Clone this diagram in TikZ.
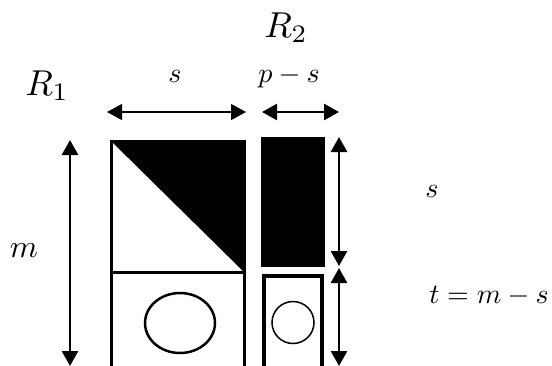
\documentclass[tikz,border=0pt]{standalone}
\usetikzlibrary{arrows.meta}
\begin{document}
\begin{tikzpicture}[x=1pt,y=-1pt,
  dimarrow/.style={{Triangle[length=15pt,width=16pt]}-{Triangle[length=15pt,width=16pt]}, line width=2.6pt},
  thinarrow/.style={{Triangle[length=15pt,width=16pt]}-{Triangle[length=15pt,width=16pt]}, line width=1.2pt},
  lbl/.style={inner sep=0pt, anchor=base, scale=2.8},
  midlbl/.style={inner sep=0pt, anchor=base, scale=3.2},
  biglbl/.style={inner sep=0pt, anchor=base, scale=3.6}]
\useasboundingbox (0,0) rectangle (552,365);
% left block R1
\fill[black] (111,141) -- (244,141) -- (244,272) -- cycle;
\draw[line width=3pt] (111,141) rectangle (244,380);
\draw[line width=3pt] (111,272) -- (244,272);
\draw[line width=2.5pt] (180,323) ellipse [x radius=35, y radius=30];
% right block R2
\fill[black] (261,137) rectangle (325,267);
\draw[line width=4pt] (263.5,275.5) rectangle (322,380);
\draw[line width=1.5pt] (293,322.5) circle [radius=21];
% coordinates for arrows
\coordinate (mT) at (70,140);
\coordinate (mB) at (70,366);
\coordinate (sL) at (107,112);
\coordinate (sR) at (246,112);
\coordinate (pL) at (262,112);
\coordinate (pR) at (339,112);
\coordinate (rT) at (339,137);
\coordinate (rM1) at (339,266);
\coordinate (rM2) at (339,268);
\coordinate (rB) at (339,366);
\draw[dimarrow] (mT) -- (mB);
\draw[thinarrow] (sL) -- (sR);
\draw[dimarrow] (pL) -- (pR);
\draw[dimarrow] (rT) -- (rM1);
\draw[dimarrow] (rM2) -- (rB);
% labels
\node[biglbl] (R1) at (47,95) {$R_1$};
\node[biglbl] (R2) at (286,37) {$R_2$};
\node[lbl] (ls) at (175,82) {$s$};
\node[lbl] (lps) at (289,82) {$p-s$};
\node[midlbl] (lm) at (24,257) {$m$};
\node[lbl] (rs) at (432,197) {$s$};
\node[lbl] (rt) at (489,303) {$t=m-s$};
\end{tikzpicture}
\end{document}
